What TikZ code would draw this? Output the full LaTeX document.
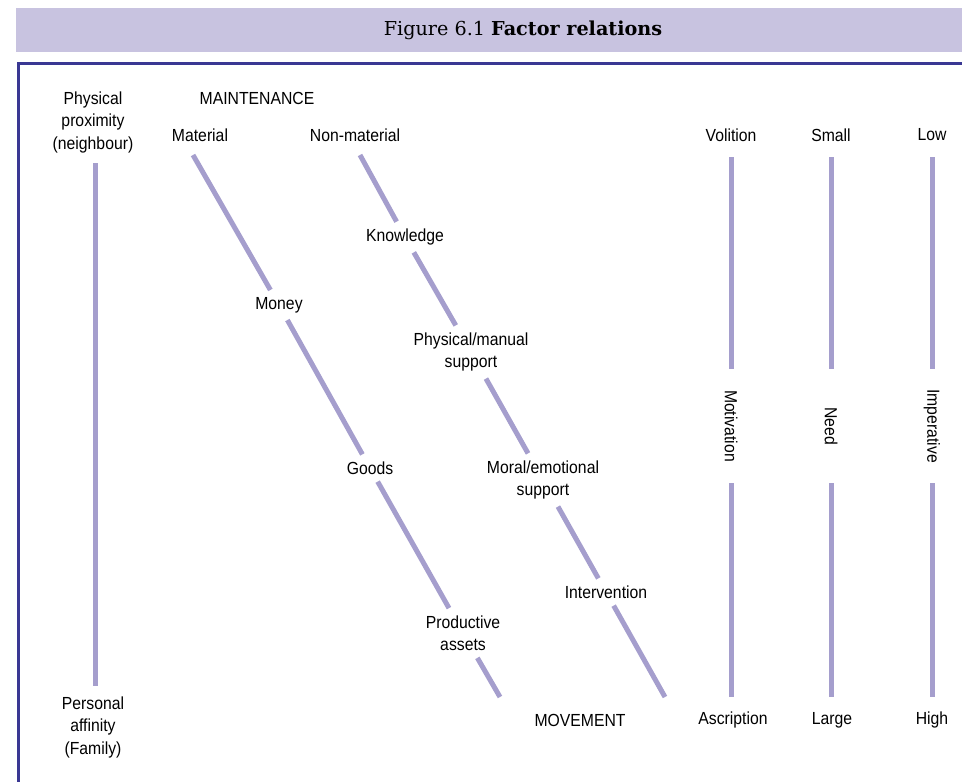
\documentclass[tikz,border=0pt]{standalone}
\usepackage{fontspec}
\setmainfont[FakeStretch=0.9]{Liberation Sans}
\newfontfamily\titlefont{DejaVu Serif}
\definecolor{barfill}{HTML}{C8C3E0}
\definecolor{framec}{HTML}{3A3893}
\definecolor{linec}{HTML}{A59ECD}
\begin{document}
\begin{tikzpicture}[x=1pt,y=-1pt,
  lbl/.style={font=\fontsize{17.5}{22.5}\selectfont, align=center, inner sep=0pt},
  gaplbl/.style={lbl, inner xsep=2pt, inner ysep=7pt},
  rotlbl/.style={lbl, rotate=-90, minimum width=114pt},
  bar/.style={line width=5pt, draw=linec},
]
\useasboundingbox (0,0) rectangle (962,782);
\fill[barfill] (16,8) rectangle (962,52);
\node[font=\titlefont\fontsize{19.2}{22}\selectfont] (title) at (523,30) {Figure 6.1 \textbf{Factor relations}};
\draw[framec, line width=3pt] (18,782) -- (18,63) -- (962,63);

% top labels
\node[lbl] (prox) at (93,122) {Physical\\proximity\\(neighbour)};
\node[lbl] (maint) at (257,98) {MAINTENANCE};
\node[lbl] (mat) at (200,135) {Material};
\node[lbl] (nonmat) at (355,135) {Non-material};
\node[lbl] (vol) at (731,135) {Volition};
\node[lbl] (small) at (831,135) {Small};
\node[lbl] (low) at (932,135) {Low};
% bottom labels
\node[lbl] (fam) at (93,727) {Personal\\affinity\\(Family)};
\node[lbl] (move) at (580,720) {MOVEMENT};
\node[lbl] (asc) at (733,720) {Ascription};
\node[lbl] (large) at (832,720) {Large};
\node[lbl] (high) at (932,720) {High};

% left vertical
\coordinate (p0) at (95,163);
\coordinate (p1) at (95,686);
\draw[bar] (p0) -- (p1);

% material diagonal
\coordinate (m0) at (193,155);
\coordinate (m1) at (500,697);
\node[gaplbl] (money) at (279,305) {Money};
\node[gaplbl] (goods) at (370,468) {Goods};
\node[gaplbl] (prod) at (463,633) {Productive\\assets};
\draw[bar] (m0) -- (money) -- (goods) -- (prod) -- (m1);

% non-material diagonal
\coordinate (n0) at (360,155);
\coordinate (n1) at (665,697);
\node[gaplbl] (know) at (405,237) {Knowledge};
\node[gaplbl] (phys) at (471,352) {Physical/manual\\support};
\node[gaplbl] (moral) at (543,480) {Moral/emotional\\support};
\node[gaplbl] (interv) at (606,592) {Intervention};
\draw[bar] (n0) -- (know) -- (phys) -- (moral) -- (interv) -- (n1);

% right verticals
\node[rotlbl] (motiv) at (731,426) {Motivation};
\node[rotlbl] (need) at (831,426) {Need};
\node[rotlbl] (imper) at (932,426) {Imperative};
\coordinate (v0) at (731,157); \coordinate (v1) at (731,697);
\coordinate (s0) at (831,157); \coordinate (s1) at (831,697);
\coordinate (l0) at (932,157); \coordinate (l1) at (932,697);
\draw[bar] (v0) -- (motiv) -- (v1);
\draw[bar] (s0) -- (need) -- (s1);
\draw[bar] (l0) -- (imper) -- (l1);
\end{tikzpicture}
\end{document}
